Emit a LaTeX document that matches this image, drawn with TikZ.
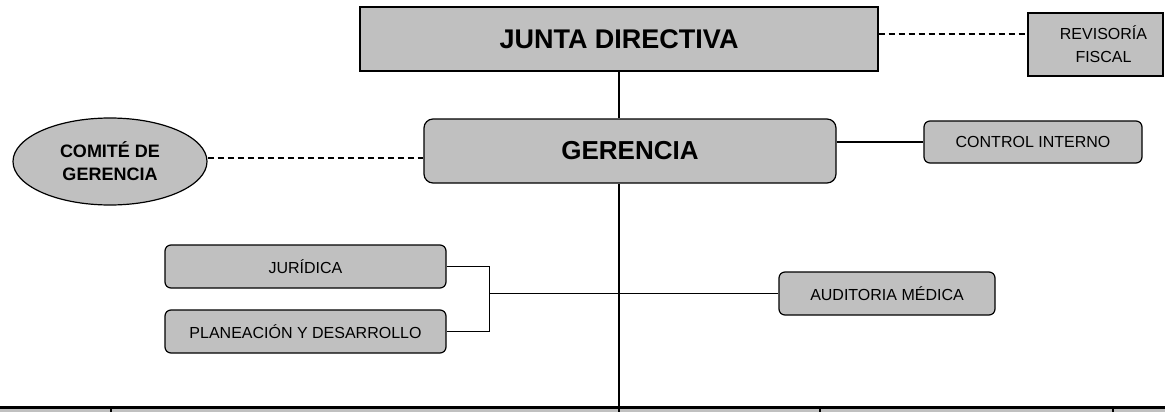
\documentclass[tikz,border=0pt]{standalone}
\usepackage{fontspec}
\setmainfont{Liberation Sans}
\usetikzlibrary{shapes.geometric,calc}
\definecolor{boxgray}{HTML}{C0C0C0}
\begin{document}
\begin{tikzpicture}[x=1pt,y=-1pt,
  box/.style={draw=black, line width=1.2pt, fill=boxgray, inner sep=0pt, align=center},
  roundbox/.style={box, rounded corners=6pt},
  bigfont/.style={font=\fontsize{27}{32}\selectfont\bfseries},
  smallfont/.style={font=\fontsize{16}{23}\selectfont},
  conn/.style={draw=black, line width=1.2pt},
  dashconn/.style={conn, dash pattern=on 6pt off 4pt}]
\useasboundingbox (0,0) rectangle (1165,412);
% nodes
\node[box, bigfont, minimum width=518pt, minimum height=64pt] (JD) at (619,39) {JUNTA DIRECTIVA};
\node[box, smallfont, minimum width=135pt, minimum height=63pt] (REV) at (1095.5,44.5) {\hspace*{16pt}REVISORÍA\\\hspace*{16pt}FISCAL};
\node[roundbox, rounded corners=9pt, font=\fontsize{26}{30}\selectfont\bfseries, minimum width=412pt, minimum height=64pt] (GER) at (630,151) {GERENCIA};
\node[roundbox, smallfont, minimum width=218pt, minimum height=42pt] (CI) at (1033,142) {CONTROL INTERNO};
\node[box, ellipse, font=\fontsize{18}{23}\selectfont\bfseries, minimum width=194pt, minimum height=87pt] (COM) at (110,161.5) {COMITÉ DE\\GERENCIA};
\node[roundbox, smallfont, minimum width=281pt, minimum height=43pt] (JUR) at (305.5,266.5) {JURÍDICA};
\node[roundbox, smallfont, minimum width=281pt, minimum height=43pt] (PLA) at (305.5,331.5) {PLANEACIÓN Y DESARROLLO};
\node[roundbox, smallfont, minimum width=216pt, minimum height=43pt] (AUD) at (887,293.5) {AUDITORIA MÉDICA};
% bottom strip
\coordinate (base) at (0,407);
\fill[boxgray] (0,407) rectangle (1165,414);
\foreach \xx in {111,619,820,1113} \draw[line width=1.2pt] (\xx,407) -- (\xx,414);
\draw[line width=3pt] (base) -- (1165,407);
% connectors
\draw[conn] (JD.south) -- (JD.south |- GER.north);
\draw[conn] (JD.south |- GER.south) -- (JD.south |- base);
\draw[dashconn] ([yshift=5pt]JD.east) -- ([yshift=5pt]JD.east -| REV.west);
\draw[dashconn] ([yshift=3.5pt]COM.east) -- ([yshift=3.5pt]COM.east -| GER.west);
\draw[conn] (CI.west -| GER.east) -- (CI.west);
\coordinate (brk) at ($(JUR.east)+(43,0)$);
\draw[conn] (JUR.east) -- (brk) |- (PLA.east);
\draw[conn] (AUD.west -| brk) -- (AUD.west);
\end{tikzpicture}
\end{document}
